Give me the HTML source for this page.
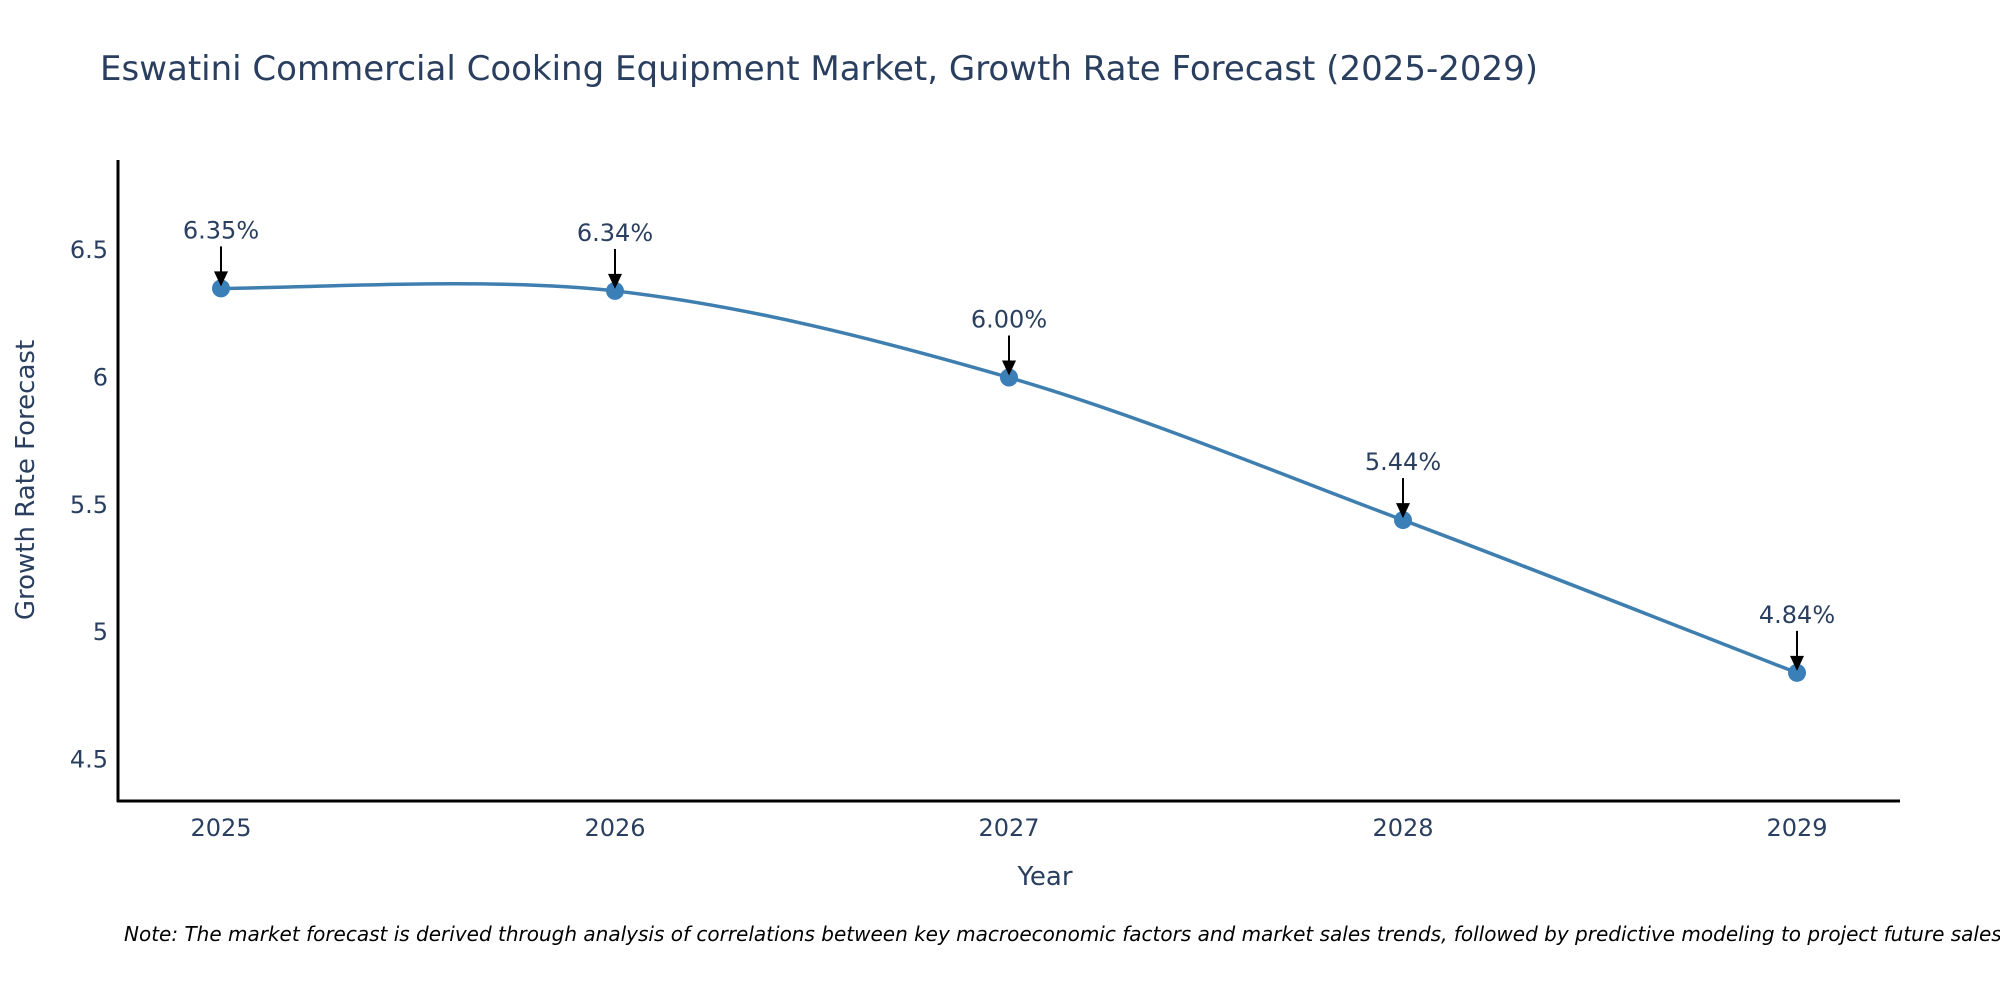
<!DOCTYPE html>
<html><head><meta charset="utf-8"><style>
body{margin:0;background:#fff;}
svg text{font-family:"DejaVu Sans","Liberation Sans",sans-serif;fill:#2a3f5f;}
</style></head><body>
<svg id="chart" width="2000" height="1000" viewBox="0 0 2000 1000" xmlns="http://www.w3.org/2000/svg">
<text x="100" y="80" font-size="34">Eswatini Commercial Cooking Equipment Market, Growth Rate Forecast (2025-2029)</text>
<g id="plot"></g>
<text x="1045" y="885" font-size="26" text-anchor="middle">Year</text>
<text transform="translate(34,480) rotate(-90)" font-size="26" text-anchor="middle">Growth Rate Forecast</text>
<text x="124" y="941" font-size="20" font-style="italic" style="fill:#000">Note: The market forecast is derived through analysis of correlations between key macroeconomic factors and market sales trends, followed by predictive modeling to project future sales.</text>
</svg>
<script>
const categories=["2025","2026","2027","2028","2029"];
const values=[6.35,6.34,6.00,5.44,4.84];
const labels=["6.35%","6.34%","6.00%","5.44%","4.84%"];
const yTicks=[4.5,5,5.5,6,6.5];
const NS="http://www.w3.org/2000/svg";
const g=document.getElementById('plot');
const X=i=>221+i*394;
const Y=v=>377.5-(v-6)*254.6;
function mk(t,a){const e=document.createElementNS(NS,t);for(const k in a)e.setAttribute(k,a[k]);g.appendChild(e);return e;}
let ax=mk('line',{x1:118,y1:160,x2:118,y2:802,stroke:'#000','stroke-width':3});


let bx=mk('line',{x1:117,y1:801,x2:1900,y2:801,stroke:'#000','stroke-width':3});


yTicks.forEach(v=>{const t=mk('text',{x:108,y:Y(v)+8,'font-size':24,'text-anchor':'end'});t.textContent=v;

});
categories.forEach((c,i)=>{const t=mk('text',{x:X(i),y:836,'font-size':24,'text-anchor':'middle'});t.textContent=c;

});
const P=values.map((v,i)=>[X(i),Y(v)]);
let d=`M${P[0][0]},${P[0][1]}`;const s=0.33;
for(let i=0;i<P.length-1;i++){const p0=P[i-1]||P[i],p1=P[i],p2=P[i+1],p3=P[i+2]||p2;
d+=` C${p1[0]+(p2[0]-p0[0])*s/2},${p1[1]+(p2[1]-p0[1])*s/2} ${p2[0]-(p3[0]-p1[0])*s/2},${p2[1]-(p3[1]-p1[1])*s/2} ${p2[0]},${p2[1]}`;}
let ln=mk('path',{d:d,fill:'none',stroke:'#3f7fb0','stroke-width':3.5});


P.forEach((p,i)=>{let c=mk('circle',{cx:p[0],cy:p[1],r:9,fill:'#3a7fb8'});


let a=mk('line',{x1:p[0],y1:p[1]-42,x2:p[0],y2:p[1]-14,stroke:'#000','stroke-width':2});


let h=mk('path',{d:`M${p[0]-7},${p[1]-17} L${p[0]+7},${p[1]-17} L${p[0]},${p[1]-2} z`,fill:'#000'});


let t=mk('text',{x:p[0],y:p[1]-50,'font-size':24,'text-anchor':'middle'});t.textContent=labels[i];

});
</script>
</body></html>
